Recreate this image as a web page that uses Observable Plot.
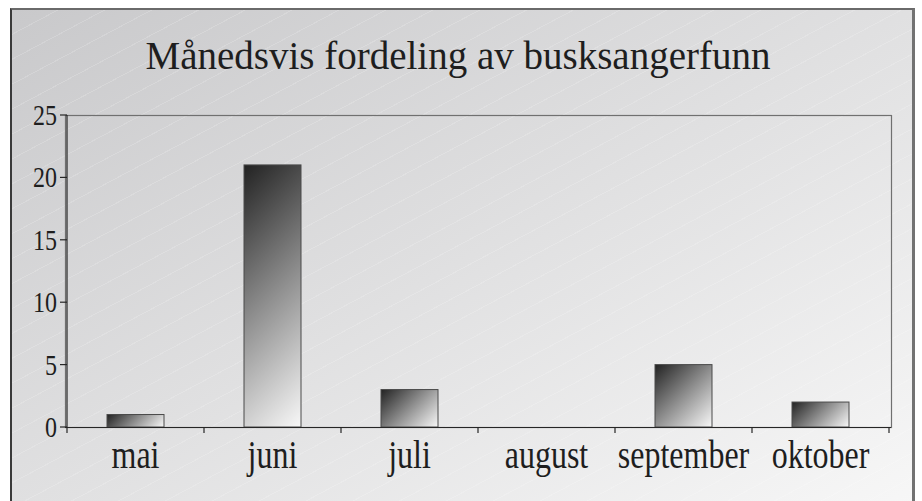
<!DOCTYPE html>
<html>
<head>
<meta charset="utf-8">
<script src="https://cdn.jsdelivr.net/npm/d3@7"></script>
<script src="https://cdn.jsdelivr.net/npm/@observablehq/plot@0.6"></script>
<style>
  body { margin: 0; background: #ffffff; }
  #card {
    position: absolute; left: 10px; top: 8px; width: 900px; height: 500px;
    border-left: 2px solid #3a3a3a; border-top: 2px solid #6a6a6a; border-right: 3px solid #727272;
    background:
      repeating-linear-gradient(152deg, rgba(255,255,255,0) 0px, rgba(255,255,255,0) 21px, rgba(255,255,255,0.16) 21px, rgba(255,255,255,0.16) 22px),
      linear-gradient(to bottom right, #c9c9cb, #f7f7f7);
    font-family: "Liberation Serif", "Times New Roman", serif; color: #1e1e1e;
  }
  #title { height: 90px; line-height: 92px; text-align: center; font-size: 39px; padding-right: 8px; white-space: nowrap; }
  #chart svg { display: block; overflow: visible; }
</style>
</head>
<body>
<div id="card">
  <div id="title">Månedsvis fordeling av busksangerfunn</div>
  <div id="chart"></div>
</div>
<script>
const months = ["mai", "juni", "juli", "august", "september", "oktober"];
const counts = [1, 21, 3, 0, 5, 2];
const yTicks = [0, 5, 10, 15, 20, 25];
const yDomain = [0, 25];
const data = months.map((m, i) => ({month: m, count: counts[i]}));

const PAD_IN = 0.586, PAD_OUT = 0.293;

// Axes drawn from the band and linear scales: y-axis line, y ticks and labels,
// x tick marks at the borders between categories and the (tall, narrow) month labels.
function axes(index, scales) {
  const x = scales.x, y = scales.y;
  const step = typeof x.step === "function" ? x.step() : (x(months[1]) - x(months[0]));
  const bw = typeof x.bandwidth === "function" ? x.bandwidth() : step * (1 - PAD_IN);
  const gap = step - bw;
  const y0 = y(yDomain[0]), yTop = y(yDomain[1]);
  const x0 = x(months[0]) - gap / 2;
  const g = d3.create("svg:g");
  const lines = g.append("g").attr("stroke", "#262626").attr("stroke-width", 1.2);
  for (let i = 0; i <= months.length; i++) {
    const px = (i < months.length ? x(months[i]) : x(months[i - 1]) + step) - gap / 2;
    lines.append("line")
      .attr("x1", px).attr("x2", px)
      .attr("y1", i === 0 ? yTop : y0).attr("y2", y0 + 6);
  }
  for (const t of yTicks) {
    lines.append("line").attr("x1", x0 - 7).attr("x2", x0).attr("y1", y(t)).attr("y2", y(t));
  }
  const labels = g.append("g").attr("fill", "#1e1e1e").attr("stroke", "none");
  for (const t of yTicks) {
    labels.append("text")
      .attr("transform", `translate(${x0 - 10},${y(t)}) scale(1,1.22)`)
      .attr("text-anchor", "end").attr("dy", "0.34em").attr("font-size", 24)
      .text(t);
  }
  for (const m of months) {
    labels.append("text")
      .attr("transform", `translate(${x(m) + bw / 2},${y0 + 13}) scale(1,1.24)`)
      .attr("text-anchor", "middle").attr("dy", "0.71em").attr("font-size", 32)
      .text(m);
  }
  return g.node();
}

const chart = Plot.plot({
  width: 900,
  height: 400,
  marginLeft: 53,
  marginRight: 21,
  marginTop: 15,
  marginBottom: 73,
  style: {background: "transparent", fontFamily: "'Liberation Serif', 'Times New Roman', serif", color: "#1e1e1e", overflow: "visible"},
  x: {domain: months, paddingInner: PAD_IN, paddingOuter: PAD_OUT, label: null, axis: null},
  y: {domain: yDomain, label: null, axis: null},
  marks: [
    Plot.frame({stroke: "#707070", strokeWidth: 1.2}),
    Plot.barY(data, {x: "month", y: "count", fill: "#888", stroke: "#4a4a4a", strokeWidth: 1}),
    Plot.ruleY([0], {stroke: "#262626", strokeWidth: 1.2}),
    axes
  ]
});

const svg = d3.select(chart);
const defs = svg.insert("defs", ":first-child");

// 45° gradient across each rendered bar (dark top-left corner to light bottom-right corner)
svg.selectAll('g[aria-label="bar"] rect').each(function (d, i) {
  const rx = +this.getAttribute("x"), ry = +this.getAttribute("y");
  const rw = +this.getAttribute("width"), rh = +this.getAttribute("height");
  const s = (rw + rh) / 2;
  const id = "barGrad" + i;
  const grad = defs.append("linearGradient").attr("id", id).attr("gradientUnits", "userSpaceOnUse")
    .attr("x1", rx).attr("y1", ry).attr("x2", rx + s).attr("y2", ry + s);
  grad.append("stop").attr("offset", "0%").attr("stop-color", "#222222");
  grad.append("stop").attr("offset", "50%").attr("stop-color", "#8e8e8e");
  grad.append("stop").attr("offset", "100%").attr("stop-color", "#f8f8f8");
  this.setAttribute("fill", `url(#${id})`);
});

document.getElementById("chart").appendChild(chart);
</script>
</body>
</html>
